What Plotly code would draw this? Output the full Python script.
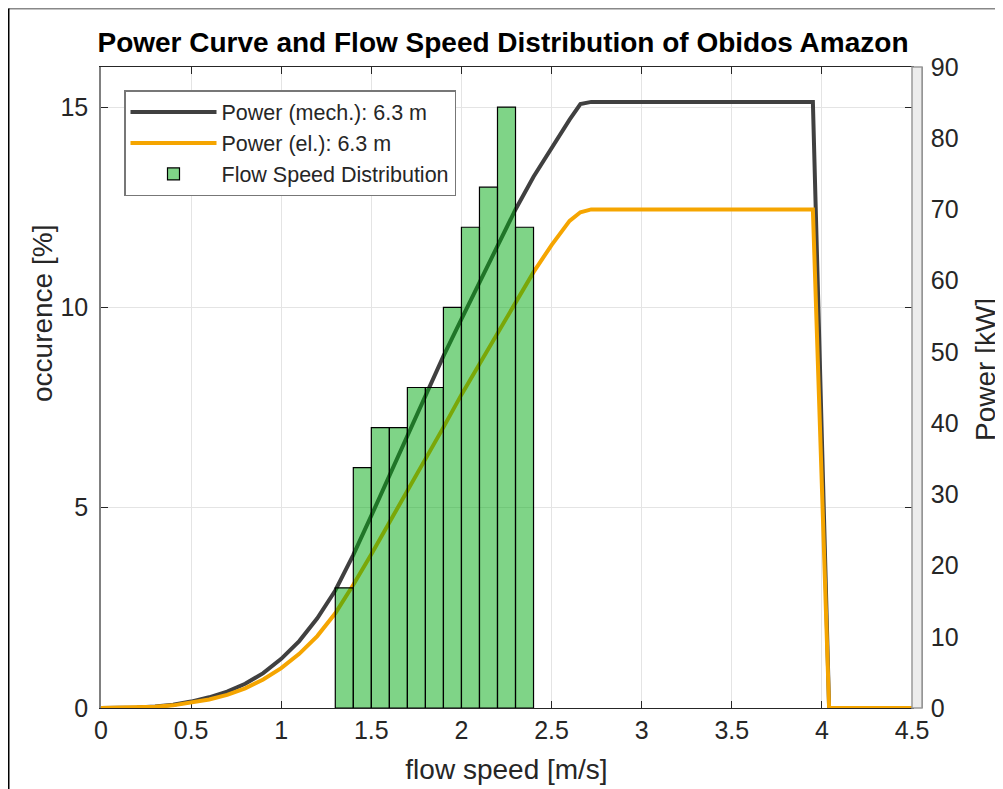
import plotly.graph_objects as go

# ---- data ----
speed = [0.0, 0.1, 0.2, 0.3, 0.4, 0.5, 0.6, 0.7, 0.8, 0.9, 1.0, 1.1, 1.2, 1.3, 1.4,
         1.5, 1.6, 1.7, 1.8, 1.9, 2.0, 2.1, 2.2, 2.3, 2.4, 2.5, 2.6, 2.66, 2.72,
         3.0, 3.5, 3.95, 4.04, 4.5]
power_mech = [0, 0.01, 0.06, 0.2, 0.45, 0.9, 1.5, 2.3, 3.4, 4.9, 6.9, 9.4, 12.6, 16.5, 21.5,
              27.0, 32.6, 38.3, 44.0, 49.4, 54.6, 59.8, 65.0, 70.0, 74.6, 78.7, 82.6, 84.8, 85.1,
              85.1, 85.1, 85.1, 0, 0]
power_el = [0, 0.01, 0.05, 0.16, 0.37, 0.72, 1.2, 1.85, 2.75, 4.0, 5.6, 7.6, 10.1, 13.3, 17.3,
            21.6, 26.0, 30.4, 34.8, 39.4, 44.0, 48.3, 52.6, 57.0, 61.2, 65.0, 68.4, 69.6, 70.0,
            70.0, 70.0, 70.0, 0, 0]

bin_centers = [1.35, 1.45, 1.55, 1.65, 1.75, 1.85, 1.95, 2.05, 2.15, 2.25, 2.35]
occurrence = [3, 6, 7, 7, 8, 8, 10, 12, 13, 15, 12]
bin_width = 0.1

x_ticks = [0, 0.5, 1, 1.5, 2, 2.5, 3, 3.5, 4, 4.5]
occ_ticks = [0, 5, 10, 15]
kw_ticks = [0, 10, 20, 30, 40, 50, 60, 70, 80, 90]

FONT = "Liberation Sans, Arial, sans-serif"
TXT = "#262626"

fig = go.Figure()
fig.add_trace(go.Scatter(x=speed, y=power_mech, mode="lines", name="Power (mech.): 6.3 m",
                         line=dict(color="#404040", width=4),
                         yaxis="y", cliponaxis=False))
fig.add_trace(go.Scatter(x=speed, y=power_el, mode="lines", name="Power (el.): 6.3 m",
                         line=dict(color="#F5A500", width=4),
                         yaxis="y", cliponaxis=False))
fig.add_trace(go.Bar(x=bin_centers, y=occurrence, width=bin_width, name="Flow Speed Distribution",
                     marker=dict(color="rgba(0,170,15,0.5)", line=dict(color="black", width=1.2)),
                     yaxis="y2"))

W, H = 1003, 789
OFF = 8  # page body margin
# target page coordinates of the plot area
PL, PR, PT, PB = 101, 922, 67, 708
pw = PR - PL
ph = PB - PT
ml = PL - OFF
mt = PT - OFF
mr = W - ml - pw
mb = H - mt - ph
xdom_end = (912 - PL) / pw

def px_x(p):
    return (p - PL) / pw

def px_y(p):
    return (PB - p) / ph

fig.update_layout(
    width=W, height=H,
    margin=dict(l=ml, r=mr, t=mt, b=mb, pad=0, autoexpand=False),
    paper_bgcolor="white", plot_bgcolor="white",
    font=dict(family=FONT, color=TXT, size=25),
    title=dict(text="<b>Power Curve and Flow Speed Distribution of Obidos Amazon</b>",
               font=dict(size=28, color="black", family=FONT),
               x=px_x(503), xref="paper", xanchor="center",
               y=1 - (42 - OFF) / H, yref="container", yanchor="middle"),
    xaxis=dict(domain=[0, xdom_end], range=[0, 4.5], tickvals=x_ticks,
               ticks="inside", ticklen=7, tickcolor=TXT, showline=True, linecolor=TXT,
               linewidth=1, mirror="ticks", showgrid=True, gridcolor="#e4e4e4",
               zeroline=False, layer="below traces", automargin=False,
               title=dict(text="flow speed [m/s]", font=dict(size=28, color=TXT), standoff=16),
               tickfont=dict(size=25, color=TXT)),
    yaxis=dict(range=[0, 90], tickvals=kw_ticks, side="right", anchor="free", position=1,
               ticks="inside", ticklen=5, tickcolor="#888", showline=True, linecolor="#888",
               linewidth=1.5, showgrid=False, zeroline=False, automargin=False,
               ticklabelstandoff=3,
               tickfont=dict(size=25, color=TXT)),
    yaxis2=dict(range=[0, 16], tickvals=occ_ticks, side="left", anchor="x", overlaying="y",
                ticks="inside", ticklen=7, tickcolor=TXT, showline=True, linecolor="#808080",
                linewidth=1.5, mirror="ticks", showgrid=True, gridcolor="#e4e4e4",
                zeroline=False, layer="below traces", automargin=False,
                ticklabelstandoff=6,
                tickfont=dict(size=25, color=TXT)),
    legend=dict(x=px_x(124), y=px_y(90), xanchor="left", yanchor="top",
                bgcolor="white", bordercolor="#777", borderwidth=1.5,
                font=dict(size=21.5, color=TXT), itemwidth=86, traceorder="normal",
                tracegroupgap=0),
    showlegend=True,
    annotations=[
        dict(text="occurence [%]", xref="paper", yref="paper", x=px_x(42), y=px_y(314),
             textangle=-90, showarrow=False, font=dict(size=28, color=TXT),
             xanchor="center", yanchor="middle"),
        dict(text="Power [kW]", xref="paper", yref="paper", x=px_x(985), y=px_y(369),
             textangle=-90, showarrow=False, font=dict(size=28, color=TXT),
             xanchor="center", yanchor="middle"),
    ],
    shapes=[
        dict(type="rect", xref="paper", yref="paper", x0=xdom_end, x1=1, y0=0, y1=1,
             fillcolor="#ececec", line=dict(color="#999", width=1.5), layer="above"),
        dict(type="line", xref="paper", yref="paper", x0=px_x(8.5), x1=px_x(1003),
             y0=px_y(8.5), y1=px_y(8.5), line=dict(color="#888", width=2)),
        dict(type="line", xref="paper", yref="paper", x0=px_x(8.5), x1=px_x(8.5),
             y0=px_y(8.5), y1=px_y(789), line=dict(color="black", width=2)),
    ],
)

fig.write_html("out.html")
